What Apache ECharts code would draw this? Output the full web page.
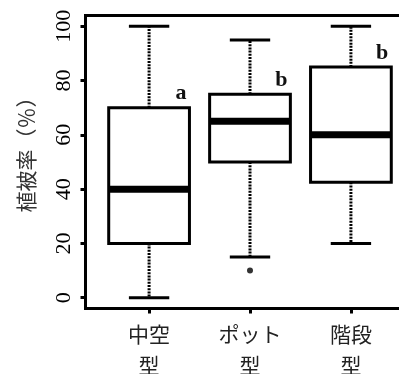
<!DOCTYPE html>
<html>
<head>
<meta charset="utf-8">
<script src="https://cdn.jsdelivr.net/npm/echarts@6/dist/echarts.min.js"></script>
<style>
  html, body { margin: 0; padding: 0; background: #fff; }
  #chart { width: 399px; height: 374px; }
</style>
</head>
<body>
<div id="chart"></div>
<script>
// box stats
const categories = ['中空\n型', 'ポット\n型', '階段\n型']
const mins = [0, 15, 20]
const q1s = [20, 50, 42.5]
const medians = [40, 65, 60]
const q3s = [70, 75, 85]
const maxs = [100, 95, 100]
const letters = ['a', 'b', 'b']
const outliers = [[2, 10]]
const yTicks = [0, 20, 40, 60, 80, 100]

const boxData = categories.map((c, i) => [i + 1, mins[i], q1s[i], medians[i], q3s[i], maxs[i]])

const renderBox = (params, api) => {
  const x = api.value(0)
  const pMin = api.coord([x, api.value(1)])
  const pQ1 = api.coord([x, api.value(2)])
  const pMed = api.coord([x, api.value(3)])
  const pQ3 = api.coord([x, api.value(4)])
  const pMax = api.coord([x, api.value(5)])
  const bl = api.coord([x - 0.4, 0])[0]
  const br = api.coord([x + 0.4, 0])[0]
  const cl = api.coord([x - 0.2, 0])[0]
  const cr = api.coord([x + 0.2, 0])[0]
  const dashed = { stroke: '#000', lineWidth: 3, lineDash: [2, 1.2], lineCap: 'butt' }
  const solid = { stroke: '#000', lineWidth: 3, lineCap: 'butt' }
  return {
    type: 'group',
    children: [
      { type: 'line', shape: { x1: pQ1[0], y1: pQ1[1], x2: pMin[0], y2: pMin[1] }, style: dashed },
      { type: 'line', shape: { x1: pQ3[0], y1: pQ3[1], x2: pMax[0], y2: pMax[1] }, style: dashed },
      { type: 'line', shape: { x1: cl, y1: pMin[1], x2: cr, y2: pMin[1] }, style: solid },
      { type: 'line', shape: { x1: cl, y1: pMax[1], x2: cr, y2: pMax[1] }, style: solid },
      {
        type: 'rect',
        shape: { x: bl, y: pQ3[1], width: br - bl, height: pQ1[1] - pQ3[1] },
        style: { fill: '#fff', stroke: '#000', lineWidth: 3 },
      },
      { type: 'line', shape: { x1: bl, y1: pMed[1], x2: br, y2: pMed[1] }, style: { stroke: '#000', lineWidth: 7, lineCap: 'butt' } },
      {
        type: 'text',
        x: br - 3,
        y: pQ3[1] - 3,
        style: {
          text: letters[params.dataIndex],
          fill: '#111',
          font: 'bold 22px "Liberation Serif"',
          align: 'right',
          verticalAlign: 'bottom',
        },
      },
    ],
  }
}

const option = {
  animation: false,
  grid: {
    show: true,
    left: 85.5,
    top: 15.5,
    width: 329,
    height: 293,
    outerBoundsMode: 'none',
    containLabel: false,
    borderColor: '#000',
    borderWidth: 3,
  },
  xAxis: {
    type: 'value',
    min: 0.37,
    max: 3.63,
    splitLine: { show: false },
    axisLine: { show: false, onZero: false },
    axisTick: { show: true, length: 5, lineStyle: { color: '#000', width: 3 }, customValues: [1, 2, 3] },
    axisLabel: {
      customValues: [1, 2, 3],
      formatter: v => categories[Math.round(v) - 1] || '',
      margin: 10,
      fontFamily: 'Noto Sans CJK JP',
      fontSize: 21,
      lineHeight: 31,
      color: '#222',
    },
  },
  yAxis: {
    type: 'value',
    min: -4,
    max: 104,
    splitLine: { show: false },
    axisLine: { show: false, onZero: false },
    axisTick: { show: true, length: 5, lineStyle: { color: '#000', width: 3 }, customValues: yTicks },
    axisLabel: {
      customValues: yTicks,
      rotate: 90,
      margin: 10,
      fontFamily: '"Liberation Serif", serif',
      fontSize: 22,
      color: '#000',
    },
  },
  graphic: [{
    type: 'text',
    x: 26,
    y: 149.5,
    rotation: Math.PI / 2,
    style: {
      text: '植被率（％）',
      font: '21px "Noto Sans CJK JP"',
      fill: '#333',
      align: 'center',
      verticalAlign: 'middle',
    },
  }],
  series: [
    {
      type: 'custom',
      renderItem: renderBox,
      data: boxData,
      encode: { x: 0, y: [1, 2, 3, 4, 5] },
      clip: false,
    },
    {
      type: 'scatter',
      data: outliers,
      symbolSize: 6,
      itemStyle: { color: '#000' },
    },
  ],
}

const chart = echarts.init(document.getElementById('chart'))
chart.setOption(option)
</script>
</body>
</html>
